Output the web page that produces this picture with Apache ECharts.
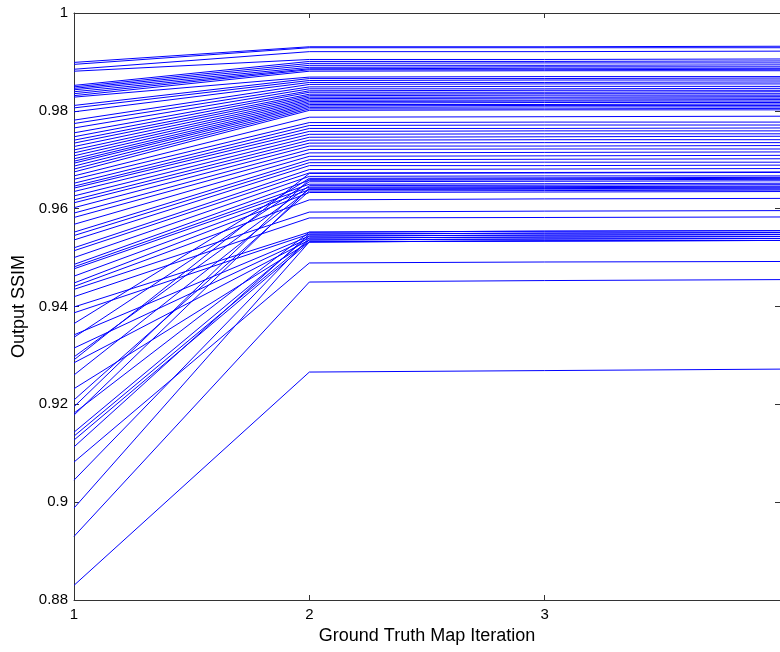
<!DOCTYPE html>
<html>
<head>
<meta charset="utf-8">
<script src="https://cdn.jsdelivr.net/npm/echarts@6/dist/echarts.min.js"></script>
<style>html,body{margin:0;padding:0;background:#fff}#c{width:780px;height:652px}</style>
</head>
<body>
<div id="c"></div>
<script>
// Iterations on the x axis
const iterations = [1, 2, 3, 4];
// Output SSIM of each run, at iteration 1..4 (index i is the same run in each array)
const ssimIter1 = [0.9899,0.9895,0.9885,0.9881,0.9852,0.9849,0.9846,0.9843,0.9839,0.9835,0.9831,0.9828,0.9811,0.9806,0.9798,0.9781,0.9774,0.9765,0.9755,0.9747,0.9740,0.9734,0.9727,0.9720,0.9714,0.9708,0.9702,0.9697,0.9693,0.9687,0.9681,0.9675,0.9667,0.9660,0.9652,0.9646,0.9642,0.9635,0.9626,0.9618,0.9612,0.9602,0.9591,0.9582,0.9568,0.9552,0.9545,0.9536,0.9520,0.9514,0.9500,0.9486,0.9481,0.9477,0.9462,0.9448,0.9441,0.9435,0.9420,0.9399,0.9387,0.9365,0.9342,0.9337,0.9315,0.9297,0.9291,0.9285,0.9260,0.9232,0.9209,0.9195,0.9182,0.9178,0.9143,0.9135,0.9127,0.9113,0.9082,0.9045,0.8988,0.8930,0.8830];
const ssimIter2 = [0.9931,0.9929,0.9921,0.9905,0.9901,0.9897,0.9893,0.9889,0.9886,0.9884,0.9881,0.9869,0.9866,0.9862,0.9858,0.9854,0.9849,0.9845,0.9841,0.9838,0.9834,0.9831,0.9828,0.9825,0.9822,0.9819,0.9816,0.9813,0.9810,0.9807,0.9804,0.9801,0.9787,0.9776,0.9770,0.9764,0.9758,0.9752,0.9746,0.9740,0.9734,0.9728,0.9721,0.9714,0.9707,0.9700,0.9694,0.9688,0.9680,0.9673,0.9666,0.9658,0.9650,0.9644,0.9639,0.9633,0.9618,0.9593,0.9581,0.9552,0.9548,0.9662,0.9544,0.9655,0.9540,0.9647,0.9672,0.9536,0.9640,0.9532,0.9636,0.9660,0.9552,0.9642,0.9544,0.9536,0.9532,0.9548,0.9489,0.9540,0.9532,0.9450,0.9266];
const ssimIter3 = [0.9931,0.9929,0.9921,0.9905,0.9901,0.9898,0.9893,0.9890,0.9887,0.9884,0.9882,0.9870,0.9866,0.9863,0.9858,0.9855,0.9850,0.9845,0.9842,0.9838,0.9835,0.9832,0.9828,0.9826,0.9822,0.9820,0.9817,0.9813,0.9811,0.9808,0.9804,0.9802,0.9788,0.9777,0.9771,0.9764,0.9759,0.9753,0.9747,0.9741,0.9735,0.9728,0.9722,0.9715,0.9708,0.9701,0.9695,0.9688,0.9681,0.9674,0.9667,0.9659,0.9651,0.9645,0.9640,0.9634,0.9620,0.9595,0.9582,0.9554,0.9550,0.9663,0.9546,0.9656,0.9542,0.9648,0.9673,0.9538,0.9641,0.9534,0.9637,0.9661,0.9554,0.9643,0.9546,0.9538,0.9534,0.9550,0.9491,0.9542,0.9534,0.9453,0.9269];
const ssimIter4 = [0.9932,0.9929,0.9922,0.9906,0.9902,0.9898,0.9894,0.9890,0.9887,0.9885,0.9882,0.9870,0.9867,0.9863,0.9859,0.9855,0.9850,0.9846,0.9842,0.9839,0.9835,0.9832,0.9829,0.9826,0.9823,0.9820,0.9817,0.9814,0.9811,0.9808,0.9805,0.9802,0.9789,0.9777,0.9771,0.9765,0.9759,0.9753,0.9748,0.9741,0.9735,0.9729,0.9722,0.9716,0.9709,0.9702,0.9695,0.9689,0.9682,0.9675,0.9667,0.9660,0.9652,0.9646,0.9640,0.9635,0.9621,0.9596,0.9583,0.9555,0.9551,0.9664,0.9547,0.9657,0.9543,0.9649,0.9674,0.9539,0.9642,0.9535,0.9638,0.9662,0.9555,0.9644,0.9547,0.9539,0.9535,0.9551,0.9492,0.9543,0.9535,0.9455,0.9272];
const yTicks = [0.88, 0.9, 0.92, 0.94, 0.96, 0.98, 1];

const byIter = [ssimIter1, ssimIter2, ssimIter3, ssimIter4];
const series = ssimIter1.map((v, i) => ({
  type: 'line',
  xAxisIndex: 0, yAxisIndex: 0,
  data: iterations.map((it, k) => [it, byIter[k][i]]),
  showSymbol: false, symbol: 'none',
  lineStyle: { color: '#0000ff', width: 1 },
  emphasis: { disabled: true },
  silent: true
}));

const tickFont = { fontFamily: 'Liberation Sans, Arial, sans-serif', fontSize: 15, color: '#000' };
const nameFont = { fontFamily: 'Liberation Sans, Arial, sans-serif', fontSize: 18, color: '#000' };
const axisLine = { show: true, lineStyle: { color: '#333', width: 1 } };
const tick = { show: true, inside: true, length: 5, lineStyle: { color: '#333' } };
const fmtY = v => String(parseFloat(Number(v).toFixed(2)));

const chart = echarts.init(document.getElementById('c'), null, { renderer: 'canvas' });
chart.setOption({
  animation: false,
  backgroundColor: '#fff',
  grid: { left: 74, right: -2, top: 13, bottom: 52, containLabel: false },
  xAxis: [
    { type: 'value', min: 1, max: 4, interval: 1, position: 'bottom',
      axisLine, axisTick: tick, splitLine: { show: false },
      axisLabel: Object.assign({ margin: 7, showMaxLabel: false }, tickFont),
      name: 'Ground Truth Map Iteration', nameLocation: 'middle', nameGap: 24,
      nameTextStyle: nameFont },
    { type: 'value', min: 1, max: 4, interval: 1, position: 'top',
      axisLine, axisTick: tick, splitLine: { show: false }, axisLabel: { show: false } }
  ],
  yAxis: [
    { type: 'value', min: 0.88, max: 1, interval: 0.02, position: 'left',
      axisLine, axisTick: tick, splitLine: { show: false },
      axisLabel: Object.assign({ margin: 6, formatter: fmtY }, tickFont),
      name: 'Output SSIM', nameLocation: 'middle', nameGap: 46,
      nameTextStyle: nameFont },
    { type: 'value', min: 0.88, max: 1, interval: 0.02, position: 'right',
      axisLine, axisTick: tick, splitLine: { show: false }, axisLabel: { show: false } }
  ],
  series
});
</script>
</body>
</html>
